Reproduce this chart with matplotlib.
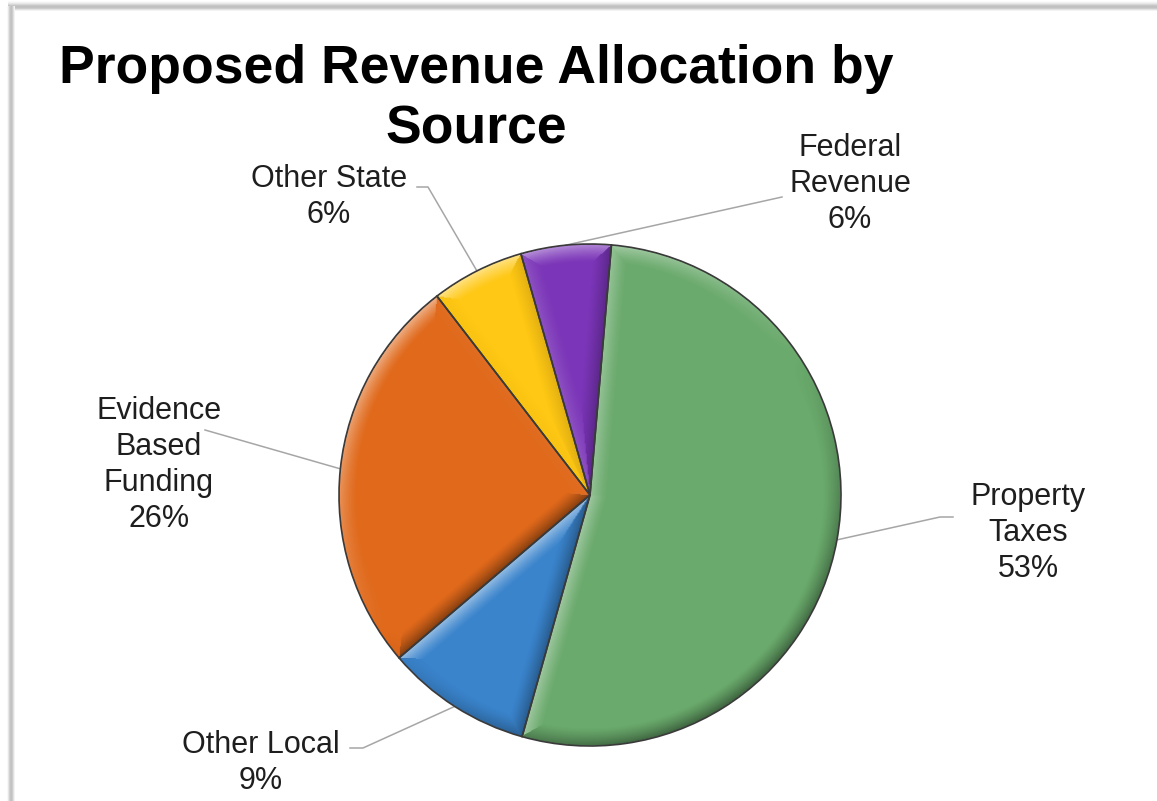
import numpy as np
import matplotlib.pyplot as plt
from matplotlib.patches import Wedge

# --- data ---
sources = ['Property\nTaxes', 'Other Local', 'Evidence\nBased\nFunding',
           'Other State', 'Federal\nRevenue']
shares = [53.0, 9.4, 25.8, 6.0, 5.8]
colors = ['#6aaa6c', '#3a84cc', '#e0691b', '#ffc814', '#7b35b8']
title_lines = ['Proposed Revenue Allocation by', 'Source']

# --- layout (pixel coords, y measured from the top of the image) ---
W, H = 1157, 801
CX, CY, R = 590, 495, 251
label_xy = [(1028, 533), (261, 763), (159, 465), (329, 197), (850, 184)]
leader_start = [[(953, 517), (940, 517)],
                [(350, 748), (363, 748)],
                [(205, 430)],
                [(417, 187), (428, 187)],
                [(782, 197)]]
title_baselines = [83, 143]


def flip(y):
    return H - y


def bevel_image(wedges, cx, cy, r, width=18, light=(-0.55, 0.83)):
    """RGBA overlay that fakes the Excel bevel: light rims facing top-left,
    dark rims facing bottom-right."""
    n = int(2 * r) + 1
    X, Y = np.meshgrid(np.linspace(cx - r, cx + r, n), np.linspace(cy - r, cy + r, n))
    dx, dy = X - cx, Y - cy
    rr = np.hypot(dx, dy) + 1e-9
    th = np.degrees(np.arctan2(dy, dx)) % 360
    lx, ly = np.array(light) / np.hypot(*light)

    dot = np.zeros_like(rr)
    dist = np.full_like(rr, 1e9)
    for w in wedges:
        t1, t2 = w.theta1, w.theta2
        span = t2 - t1
        rel = (th - t1) % 360
        inside = (rel <= span) & (rr <= r)
        a1 = np.radians(rel)
        a2 = np.radians(span - rel)
        d_arc = r - rr
        d1 = np.where(a1 < np.pi / 2, rr * np.sin(a1), rr)
        d2 = np.where(a2 < np.pi / 2, rr * np.sin(a2), rr)
        s1, c1 = np.sin(np.radians(t1)), np.cos(np.radians(t1))
        s2, c2 = np.sin(np.radians(t2)), np.cos(np.radians(t2))
        n_arc = (dx / rr) * lx + (dy / rr) * ly
        n1 = s1 * lx - c1 * ly
        n2 = -s2 * lx + c2 * ly
        stack_d = np.stack([d_arc, d1, d2])
        stack_n = np.stack([n_arc, np.full_like(rr, n1), np.full_like(rr, n2)])
        k = np.argmin(stack_d, axis=0)
        dmin = np.take_along_axis(stack_d, k[None], 0)[0]
        nmin = np.take_along_axis(stack_n, k[None], 0)[0]
        dist = np.where(inside, dmin, dist)
        dot = np.where(inside, nmin, dot)

    inten = np.clip(1 - dist / width, 0, 1) ** 1.3
    rgba = np.zeros((n, n, 4))
    lit = dot > 0
    rgba[..., :3] = np.where(lit, 1.0, 0.0)[..., None]
    rgba[..., 3] = np.where(lit, 0.48 * inten * dot, 0.42 * inten * -dot)
    rgba[rr > r, 3] = 0
    return rgba


fig = plt.figure(figsize=(W / 100, H / 100), dpi=100)
ax = fig.add_axes([0, 0, 1, 1])

# pie, first slice starts just right of 12 o'clock and goes clockwise
wedges, _ = ax.pie(shares, colors=colors, startangle=85.1, counterclock=False,
                   center=(CX, flip(CY)), radius=R,
                   wedgeprops=dict(linewidth=0))
ax.set_aspect('auto')
ax.axis('off')

img = bevel_image(wedges, CX, flip(CY), R)
ax.imshow(img, extent=(CX - R, CX + R, flip(CY) - R, flip(CY) + R),
          origin='lower', interpolation='bilinear', zorder=3, aspect='auto')
for w in wedges:
    ax.add_patch(Wedge(w.center, w.r, w.theta1, w.theta2, facecolor='none',
                       edgecolor='#3a3a3a', linewidth=1.2, zorder=4))

# labels + leader lines to the middle of each slice
for w, name, val, (lx, ly), start in zip(wedges, sources, shares, label_xy, leader_start):
    ax.text(lx, flip(ly), f'{name}\n{val:.0f}%', ha='center', va='center',
            multialignment='center', fontsize=22, family='Liberation Sans',
            color='#1e1e1e', linespacing=1.25, zorder=5)
    mid = np.radians((w.theta1 + w.theta2) / 2)
    ex = w.center[0] + w.r * np.cos(mid)
    ey = w.center[1] + w.r * np.sin(mid)
    xs = [p[0] for p in start] + [ex]
    ys = [flip(p[1]) for p in start] + [ey]
    ax.plot(xs, ys, color='#a6a6a6', linewidth=1.1, zorder=2)

# wrapped title, one text per line
for line, base in zip(title_lines, title_baselines):
    ax.text(476, flip(base), line, ha='center', va='baseline', fontsize=38.5,
            fontweight='bold', family='Liberation Sans', color='black', zorder=5)

# grey shadow frame on top and left edge
top_band = np.array([0.95, 0.88, 0.8, 0.76, 0.75, 0.78, 0.84, 0.9, 0.95, 0.98])
left_band = np.array([0.97, 0.9, 0.82, 0.77, 0.76, 0.8, 0.88, 0.95])
ax.imshow(np.repeat(top_band[::-1, None], 2, axis=1), cmap='gray', vmin=0, vmax=1,
          extent=(8, W, flip(11), flip(1)), aspect='auto', zorder=1)
ax.imshow(np.repeat(left_band[None, :], 2, axis=0), cmap='gray', vmin=0, vmax=1,
          extent=(7, 15, 0, flip(6)), aspect='auto', zorder=1)
ax.set_xlim(0, W)
ax.set_ylim(0, H)

fig.savefig('out.png', dpi=100)
